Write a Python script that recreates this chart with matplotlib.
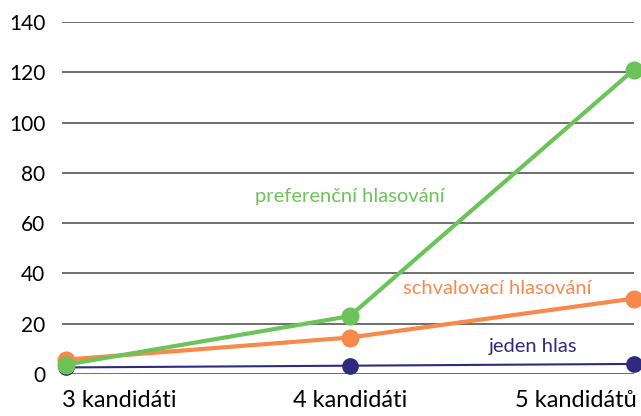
import matplotlib
matplotlib.use("Agg")
import matplotlib.pyplot as plt

plt.rcParams['font.family'] = ['Lato', 'DejaVu Sans']

kategorie = ['3 kandidáti', '4 kandidáti', '5 kandidátů']
preferencni = [3.7, 23, 121]
schvalovaci = [5.7, 14.5, 30]
jeden_hlas = [2.6, 3.3, 4]
y_ticks = [0, 20, 40, 60, 80, 100, 120, 140]

zelena = '#6cc35a'
oranzova = '#f7894a'
modra = '#2f2a7f'

fig = plt.figure(figsize=(6.41, 4.16), dpi=100)
ax = fig.add_axes([0.0967, 0.101, 0.892, 0.846])

x = list(range(len(kategorie)))

# mrizka
for v in y_ticks:
    ax.axhline(v, color='#555555', lw=1.2, zorder=1)

ax.plot(x, jeden_hlas, color=modra, lw=1.5, marker='o', ms=11, clip_on=False, zorder=3)
ax.plot(x, schvalovaci, color=oranzova, lw=3, marker='o', ms=12, clip_on=False, zorder=4)
ax.plot(x, preferencni, color=zelena, lw=3, marker='o', ms=12, clip_on=False, zorder=5)

ax.text(1.0, 70.5, 'preferenční hlasování', color=zelena, fontsize=14.5, ha='center', va='center')
ax.text(1.52, 34, 'schvalovací hlasování', color=oranzova, fontsize=14.5, ha='center', va='center')
ax.text(1.645, 11, 'jeden hlas', color=modra, fontsize=14.5, ha='center', va='center')

ax.set_xlim(-0.013, 2)
ax.set_ylim(0, 140)
ax.set_yticks(y_ticks)
ax.set_yticklabels([str(v) for v in y_ticks], fontsize=15)
ax.tick_params(axis='y', length=0, pad=12)
ax.set_xticks([])

zarovnani = ['left', 'center', 'right']
for i, (k, ha) in enumerate(zip(kategorie, zarovnani)):
    xx = i - 0.013 if i == 0 else i + 0.01 * (i == 2)
    ax.text(xx, -10.5, k, fontsize=17, ha=ha, va='center', clip_on=False)

for s in ax.spines.values():
    s.set_visible(False)

fig.savefig('out.png', dpi=100)
